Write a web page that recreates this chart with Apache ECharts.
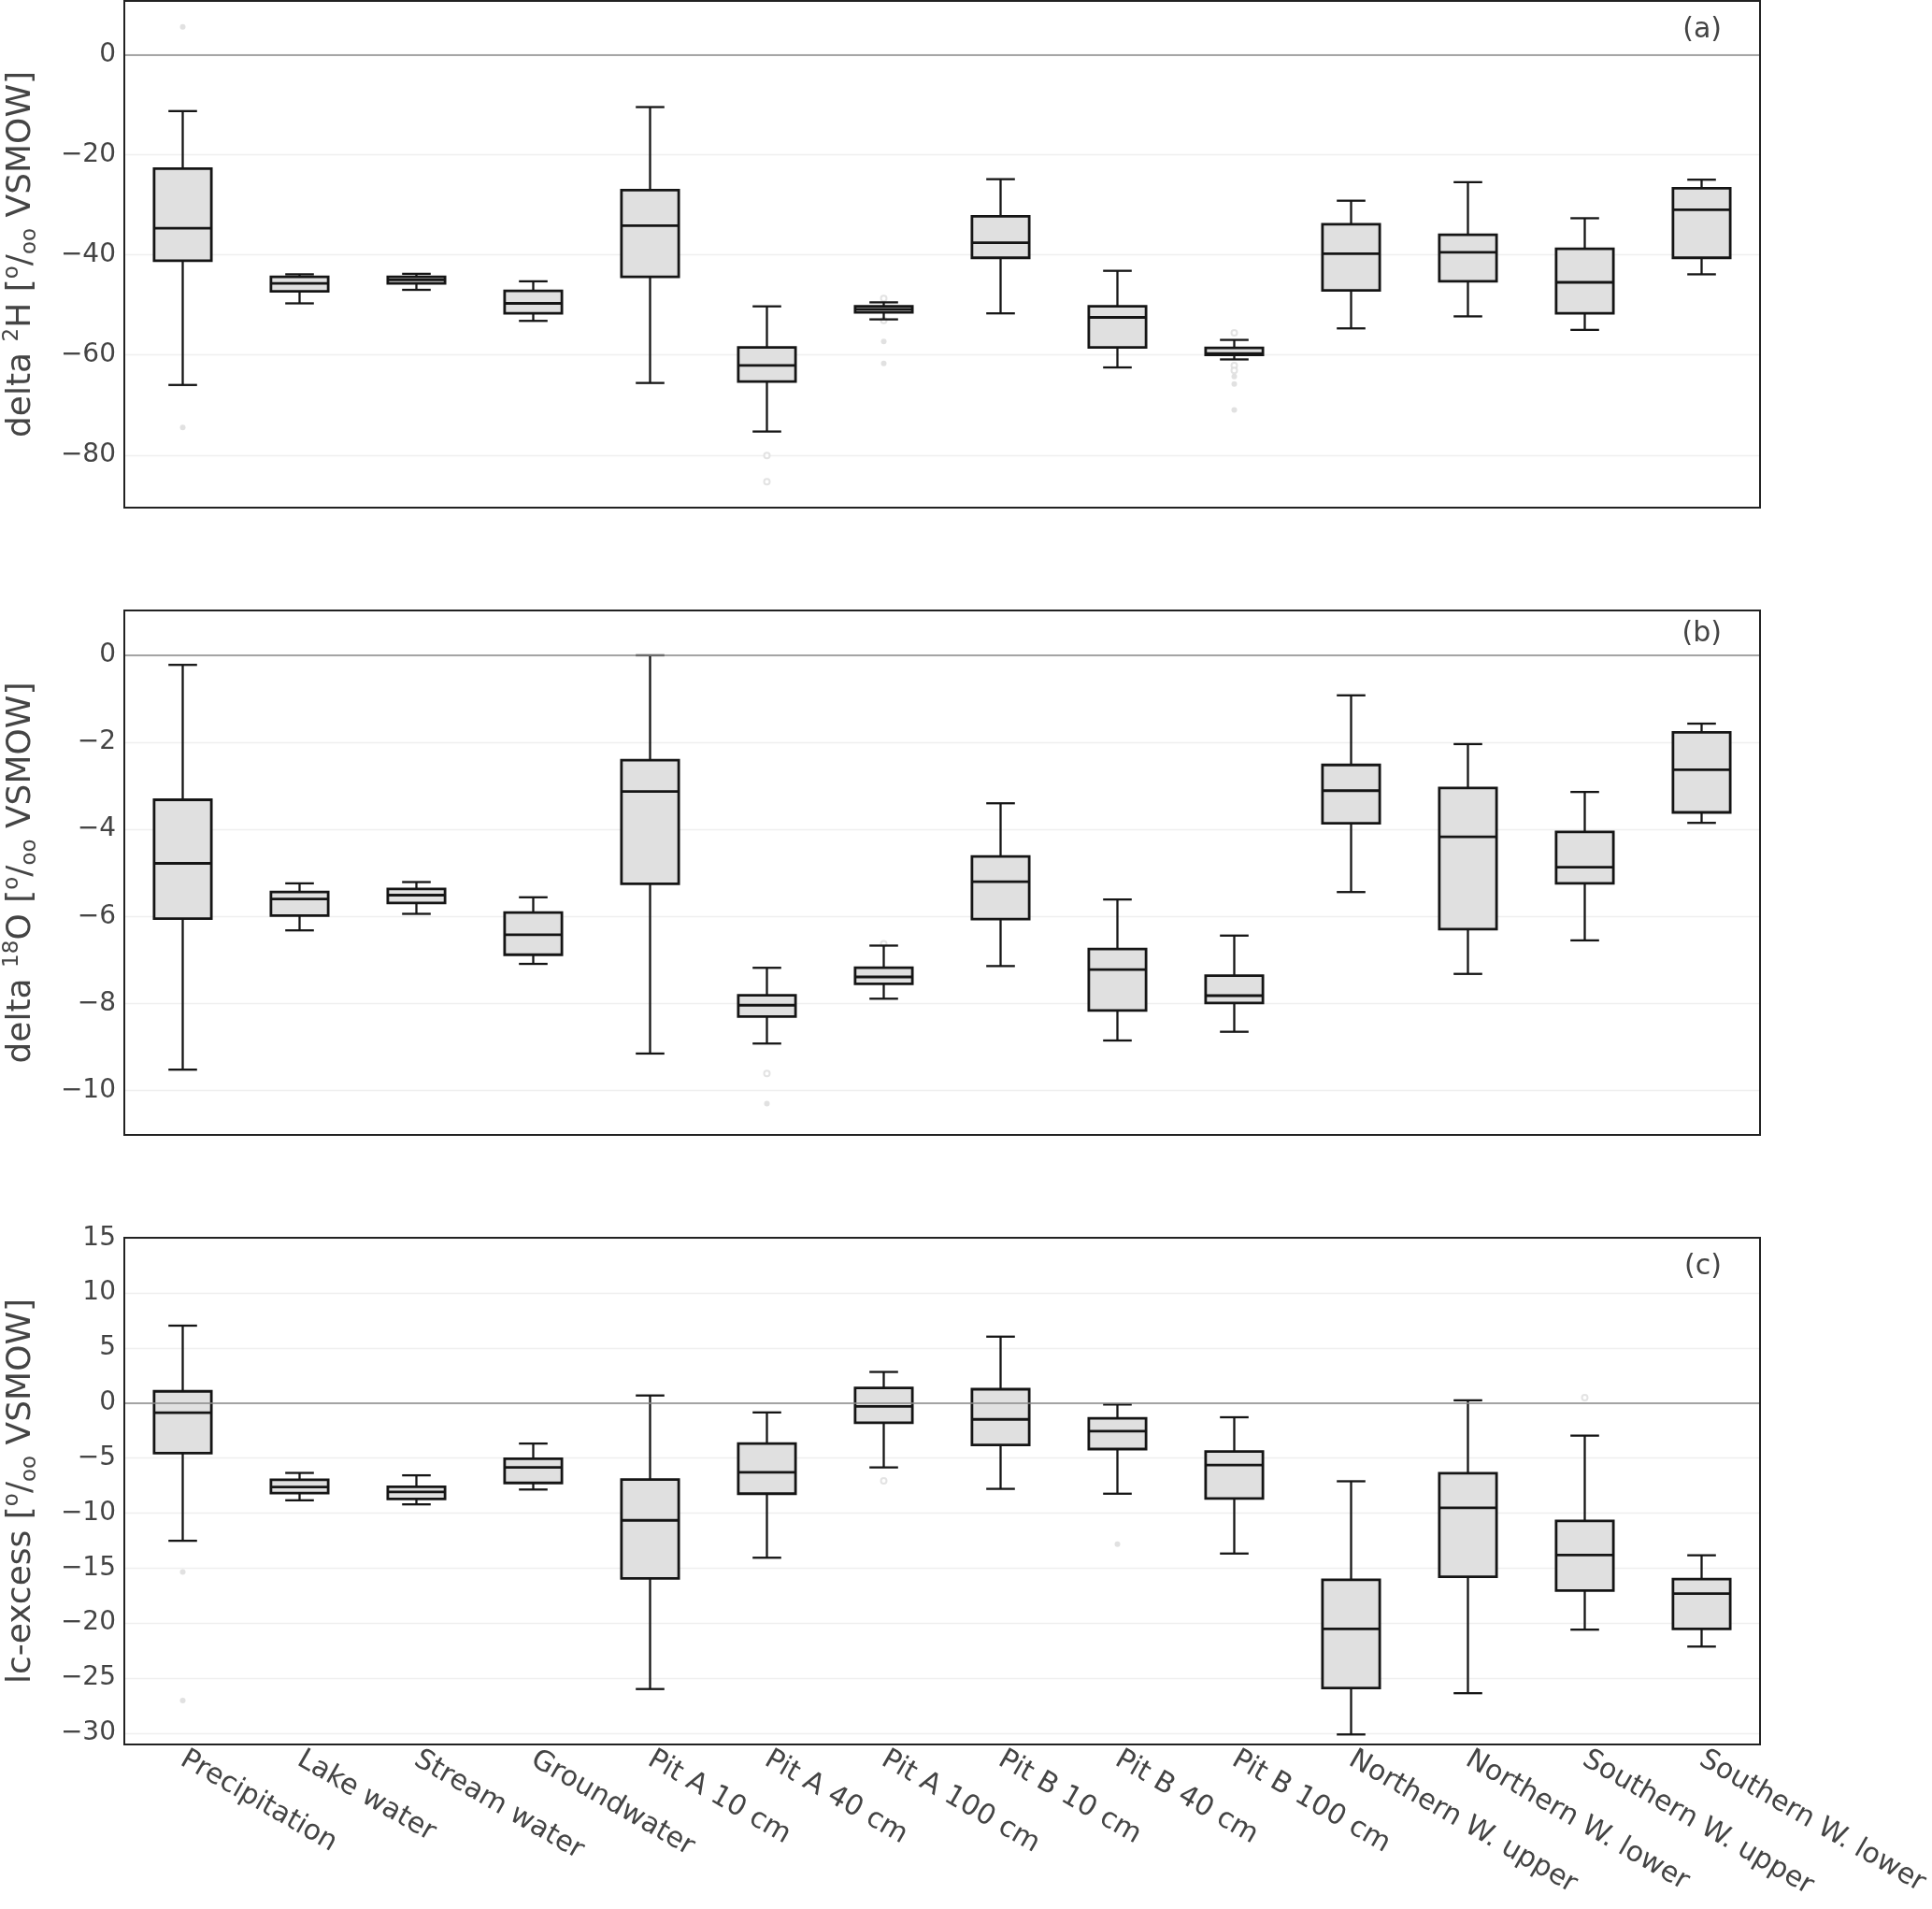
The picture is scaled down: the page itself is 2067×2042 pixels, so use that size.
<!DOCTYPE html>
<html>
<head>
<meta charset="utf-8">
<script src="https://cdn.jsdelivr.net/npm/echarts@6/dist/echarts.min.js"></script>
<style>
html,body{margin:0;padding:0;background:#fff;}
#chart{width:2067px;height:2042px;}
</style>
</head>
<body>
<div id="chart"></div>
<script>
// ---------- DATA ----------
const categories = ['Precipitation','Lake water','Stream water','Groundwater','Pit A 10 cm','Pit A 40 cm','Pit A 100 cm','Pit B 10 cm','Pit B 40 cm','Pit B 100 cm','Northern W. upper','Northern W. lower','Southern W. upper','Southern W. lower'];

// panel (a) delta 2H
const d2H_low    = [-66.0,-49.7,-47.0,-53.2,-65.6,-75.3,-52.9,-51.7,-62.5,-60.9,-54.7,-52.3,-55.0,-43.9];
const d2H_q1     = [-41.2,-47.3,-45.7,-51.7,-44.4,-65.3,-51.5,-40.6,-58.5,-60.0,-47.1,-45.3,-51.7,-40.6];
const d2H_median = [-34.7,-45.7,-45.0,-49.7,-34.2,-62.1,-50.9,-37.6,-52.5,-59.7,-39.8,-39.5,-45.5,-31.0];
const d2H_q3     = [-22.8,-44.4,-44.4,-47.2,-27.1,-58.5,-50.3,-32.3,-50.3,-58.6,-33.9,-36.0,-38.8,-26.7];
const d2H_high   = [-11.3,-43.9,-43.8,-45.3,-10.5,-50.3,-49.5,-24.9,-43.2,-57.0,-29.2,-25.5,-32.7,-25.0];
const d2H_outFilled = [['Precipitation',5.5],['Precipitation',-74.5],['Pit A 100 cm',-57.3],['Pit A 100 cm',-61.7],['Pit B 100 cm',-64.3],['Pit B 100 cm',-65.8],['Pit B 100 cm',-71.0]];
const d2H_outHollow = [['Pit A 40 cm',-80.1],['Pit A 40 cm',-85.3],['Pit A 100 cm',-48.7],['Pit A 100 cm',-53.1],['Pit B 100 cm',-55.6],['Pit B 100 cm',-62.1],['Pit B 100 cm',-63.1]];
const d2H_ticks = [-80,-60,-40,-20,0];

// panel (b) delta 18O
const d18O_low    = [-9.52,-6.32,-5.94,-7.09,-9.15,-8.92,-7.89,-7.14,-8.85,-8.65,-5.44,-7.32,-6.55,-3.85];
const d18O_q1     = [-6.05,-5.98,-5.69,-6.88,-5.25,-8.30,-7.55,-6.06,-8.16,-7.99,-3.86,-6.29,-5.24,-3.61];
const d18O_median = [-4.78,-5.60,-5.51,-6.42,-3.13,-8.04,-7.39,-5.20,-7.22,-7.82,-3.11,-4.17,-4.87,-2.63];
const d18O_q3     = [-3.32,-5.44,-5.37,-5.91,-2.41,-7.81,-7.18,-4.62,-6.75,-7.36,-2.52,-3.05,-4.06,-1.77];
const d18O_high   = [-0.22,-5.24,-5.21,-5.56,0.0,-7.18,-6.67,-3.40,-5.61,-6.44,-0.92,-2.04,-3.14,-1.57];
const d18O_outFilled = [['Pit A 40 cm',-10.30]];
const d18O_outHollow = [['Pit A 40 cm',-9.61],['Pit A 100 cm',-6.63]];
const d18O_ticks = [-10,-8,-6,-4,-2,0];

// panel (c) lc-excess
const lc_low    = [-12.52,-8.84,-9.21,-7.86,-26.0,-14.06,-5.85,-7.80,-8.24,-13.68,-30.13,-26.38,-20.6,-22.14];
const lc_q1     = [-4.56,-8.18,-8.71,-7.26,-15.94,-8.24,-1.79,-3.81,-4.18,-8.68,-25.91,-15.79,-17.04,-20.53];
const lc_median = [-0.88,-7.64,-8.08,-5.85,-10.66,-6.29,-0.31,-1.48,-2.55,-5.63,-20.53,-9.53,-13.81,-17.33];
const lc_q3     = [1.07,-6.98,-7.61,-5.06,-6.95,-3.68,1.38,1.26,-1.38,-4.40,-16.07,-6.38,-10.72,-16.0];
const lc_high   = [7.04,-6.35,-6.57,-3.68,0.69,-0.85,2.83,6.04,-0.13,-1.29,-7.11,0.25,-2.96,-13.84];
const lc_outFilled = [['Precipitation',-15.35],['Precipitation',-27.04],['Pit B 40 cm',-12.83]];
const lc_outHollow = [['Pit A 100 cm',-7.08],['Southern W. upper',0.5]];
const lc_ticks = [-30,-25,-20,-15,-10,-5,0,5,10,15];

const panelLabels = ['(a)','(b)','(c)'];

// ---------- BUILD ----------
function boxData(lo,q1,med,q3,hi){
  return categories.map((c,i)=>[i,lo[i],q1[i],med[i],q3[i],hi[i]]);
}
function renderBox(params, api){
  const idx = api.value(0);
  const lo = api.coord([idx, api.value(1)]);
  const q1 = api.coord([idx, api.value(2)]);
  const md = api.coord([idx, api.value(3)]);
  const q3 = api.coord([idx, api.value(4)]);
  const hi = api.coord([idx, api.value(5)]);
  const bw = api.size([1,0])[0]*0.49;
  const cw = bw*0.5;
  const x = lo[0];
  const dark = '#151515';
  const ls = {stroke:dark, lineWidth:2.3};
  return {type:'group', children:[
    {type:'line', shape:{x1:x,y1:hi[1],x2:x,y2:q3[1]}, style:ls},
    {type:'line', shape:{x1:x,y1:q1[1],x2:x,y2:lo[1]}, style:ls},
    {type:'line', shape:{x1:x-cw/2,y1:hi[1],x2:x+cw/2,y2:hi[1]}, style:ls},
    {type:'line', shape:{x1:x-cw/2,y1:lo[1],x2:x+cw/2,y2:lo[1]}, style:ls},
    {type:'rect', shape:{x:x-bw/2,y:q3[1],width:bw,height:q1[1]-q3[1]}, style:{fill:'#e0e0e0',stroke:dark,lineWidth:2.8}},
    {type:'line', shape:{x1:x-bw/2,y1:md[1],x2:x+bw/2,y2:md[1]}, style:{stroke:dark,lineWidth:2.8}}
  ]};
}
const grids = [
  {left:133, width:1750, top:1, height:542},
  {left:133, width:1750, top:653, height:561},
  {left:133, width:1750, top:1324, height:542}
];
const yRanges = [[-90.5,10.7],[-11.02,1.03],[-31.04,15.03]];
const yTicks = [d2H_ticks,d18O_ticks,lc_ticks];
const txtColor = '#444';
const FONT = 'DejaVu Sans';
const richSS = {
  sup:{fontSize:23, fontFamily:FONT, color:txtColor, verticalAlign:'top', lineHeight:42},
  sub:{fontSize:23, fontFamily:FONT, color:txtColor, verticalAlign:'bottom', lineHeight:42},
  n:{fontSize:36, fontFamily:FONT, color:txtColor, lineHeight:42}
};
const yNames = [
  '{n|delta }{sup|2}{n|H [}{sup|o}{n|/}{sub|oo}{n| VSMOW]}',
  '{n|delta }{sup|18}{n|O [}{sup|o}{n|/}{sub|oo}{n| VSMOW]}',
  '{n|lc-excess [}{sup|o}{n|/}{sub|oo}{n| VSMOW]}'
];
const boxSets = [
  boxData(d2H_low,d2H_q1,d2H_median,d2H_q3,d2H_high),
  boxData(d18O_low,d18O_q1,d18O_median,d18O_q3,d18O_high),
  boxData(lc_low,lc_q1,lc_median,lc_q3,lc_high)
];
const outF = [d2H_outFilled,d18O_outFilled,lc_outFilled];
const outH = [d2H_outHollow,d18O_outHollow,lc_outHollow];

const frames = grids.map(g=>({
  type:'rect', z:100, silent:true,
  shape:{x:g.left, y:g.top, width:g.width, height:g.height},
  style:{fill:'none', stroke:'#222', lineWidth:2}
}));
const labels = panelLabels.map((t,i)=>({
  type:'text', right:225, top:[17,663,1340][i], z:100,
  style:{text:t, fontSize:30, fontFamily:FONT, fill:txtColor}
}));

const option = {
  animation:false,
  backgroundColor:'#fff',
  grid: grids.map(g=>Object.assign({show:false, containLabel:false, outerBoundsMode:'none'}, g)),
  xAxis: grids.map((g,i)=>({
    type:'category', gridIndex:i, data:categories, boundaryGap:true,
    axisLine:{show:false}, axisTick:{show:false}, splitLine:{show:false},
    axisLabel: i===2 ? {show:true, interval:0, rotate:-30, fontSize:30, fontFamily:FONT, color:txtColor, margin:14} : {show:false}
  })),
  yAxis: grids.map((g,i)=>({
    type:'value', gridIndex:i, min:yRanges[i][0], max:yRanges[i][1],
    axisLine:{show:false},
    axisTick:{show:false, customValues:yTicks[i]},
    axisLabel:{show:true, customValues:yTicks[i], fontSize:28, fontFamily:FONT, color:txtColor, margin:9,
      formatter:v=>String(v).replace('-','\u2212')},
    splitLine:{show:true, lineStyle:{color:'#efefef', width:1.3}},
    name:yNames[i], nameLocation:'middle', nameGap:89, nameRotate:90,
    nameTextStyle:{rich:richSS, fontFamily:FONT, fontSize:36, color:txtColor}
  })),
  graphic: frames.concat(labels),
  series: []
};
for(let i=0;i<3;i++){
  option.series.push({
    type:'line', xAxisIndex:i, yAxisIndex:i, data:[], z:1, silent:true,
    markLine:{silent:true, symbol:'none', label:{show:false}, lineStyle:{color:'#8a8a8a', width:1.6, type:'solid'}, data:[{yAxis:0}], animation:false}
  });
  option.series.push({
    type:'scatter', xAxisIndex:i, yAxisIndex:i, data:outF[i], z:2, symbol:'circle', symbolSize:6,
    itemStyle:{color:'#dadada'}
  });
  option.series.push({
    type:'scatter', xAxisIndex:i, yAxisIndex:i, data:outH[i], z:2, symbol:'emptyCircle', symbolSize:6,
    itemStyle:{color:'#dcdcdc', borderColor:'#dcdcdc', borderWidth:1.2}
  });
  option.series.push({
    type:'custom', xAxisIndex:i, yAxisIndex:i, data:boxSets[i], z:3,
    encode:{x:0, y:[1,2,3,4,5]}, renderItem:renderBox
  });
}
const chart = echarts.init(document.getElementById('chart'), null, {renderer:'canvas'});
chart.setOption(option);
</script>
</body>
</html>
